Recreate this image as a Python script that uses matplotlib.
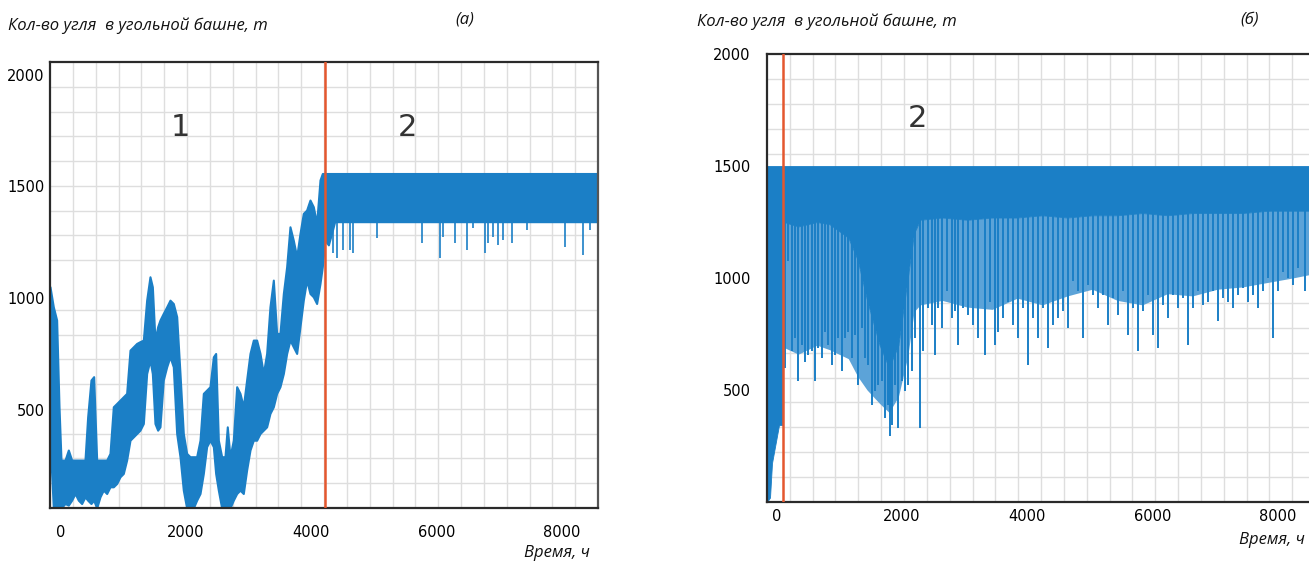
import matplotlib
matplotlib.use("Agg")
import matplotlib.pyplot as plt
import matplotlib.transforms as mtransforms
from matplotlib.ticker import MultipleLocator

# ---- (а) coal stock in the tower, whole year, hourly ----
a_hours = [0, 53, 106, 144, 176, 240, 293, 346, 400, 453, 506, 559, 602, 655,
           698, 746, 799, 852, 906, 959, 1012, 1066, 1119, 1172, 1225, 1279,
           1332, 1385, 1438, 1492, 1545, 1598, 1636, 1678, 1721, 1758, 1811,
           1865, 1918, 1971, 2025, 2078, 2131, 2184, 2238, 2291, 2344, 2398,
           2451, 2504, 2557, 2611, 2648, 2691, 2744, 2797, 2834, 2877, 2930,
           2984, 3037, 3090, 3143, 3197, 3250, 3303, 3357, 3410, 3463, 3516,
           3570, 3623, 3676, 3730, 3783, 3836, 3889, 3943, 3996, 4049, 4102,
           4156, 4209, 4262, 4316, 4353, 4395, 4450, 4500, 4550, 8760]
a_upper = [992, 902, 843, 454, 215, 215, 260, 215, 215, 215, 215, 215, 409, 574,
           589, 215, 215, 215, 215, 245, 454, 469, 484, 499, 514, 708,
           723, 738, 746, 753, 932, 1037, 992, 753, 813, 843, 873,
           902, 932, 917, 858, 603, 334, 245, 230, 230, 230, 304,
           514, 529, 544, 678, 693, 304, 230, 230, 364, 230, 304,
           544, 514, 454, 574, 693, 753, 753, 693, 603, 693, 902,
           1022, 783, 783, 962, 1082, 1261, 1201, 1127, 1231, 1321, 1336,
           1381, 1351, 1276, 1471, 1500, 1500, 1500, 1500, 1500, 1500]
a_lower = [304, 0, 0, 0, 0, 20, 13, 35, 65, 35, 20, 50, 35, 20,
           35, 0, 50, 80, 65, 95, 95, 110, 140, 155, 215, 304,
           319, 334, 349, 379, 603, 663, 603, 379, 349, 364, 574,
           633, 678, 633, 334, 230, 80, 0, 0, 0, 35, 65,
           155, 275, 304, 275, 155, 80, 0, 0, 0, 0, 35,
           65, 80, 65, 170, 260, 304, 304, 334, 349, 364, 424,
           454, 514, 544, 603, 693, 753, 723, 693, 813, 932, 1022,
           962, 947, 917, 1007, 1082, 1201, 1180, 1230, 1284, 1284]
a_spike_hours = [4529, 4582, 4689, 4796, 4848, 5222, 5942, 6234, 6287, 6474,
                 6661, 6767, 6953, 7006, 7087, 7166, 7246, 7380, 7620, 8232,
                 8526, 8632]
a_spike_low = [1142, 1120, 1157, 1157, 1142, 1209, 1187, 1120, 1217, 1187,
               1157, 1254, 1142, 1187, 1217, 1180, 1202, 1187, 1247, 1172,
               1135, 1247]
a_switch = 4400

# ---- (б) coal stock under the new control ----
b_hours = [0, 48, 80, 192, 250, 270, 500, 800, 1000, 1300, 1450, 1600, 1800,
           1950, 2100, 2250, 2350, 2450, 2800, 3200, 3600, 4000, 4400, 4800,
           5200, 5600, 6000, 6400, 6800, 7200, 7600, 8000, 8400, 8760]
b_top = [1500] * len(b_hours)
b_core = [0, 20, 174, 344, 344, 1250, 1230, 1250, 1240, 1180, 1080, 900, 700,
          600, 700, 1000, 1200, 1260, 1270, 1260, 1270, 1270, 1280, 1270,
          1280, 1280, 1290, 1280, 1290, 1290, 1290, 1300, 1300, 1300]
b_dense = [0, 20, 174, 344, 344, 690, 660, 700, 680, 640, 560, 500, 440,
           400, 470, 650, 850, 880, 900, 870, 860, 910, 880, 920,
           950, 900, 880, 930, 920, 950, 960, 980, 1000, 1020]
b_spike_hours = [288, 341, 394, 448, 501, 554, 607, 661, 714, 767, 820, 874,
                 927, 980, 1034, 1087, 1140, 1193, 1247, 1300, 1353, 1407,
                 1460, 1513, 1566, 1620, 1673, 1726, 1780, 1833, 1886, 1939,
                 1966, 1993, 2046, 2099, 2152, 2206, 2259, 2312, 2366, 2446,
                 2499, 2579, 2632, 2685, 2739, 2792, 2872, 2952, 3005, 3058,
                 3138, 3218, 3298, 3378, 3485, 3564, 3644, 3698, 3778, 3857,
                 3937, 4017, 4097, 4177, 4257, 4337, 4417, 4497, 4577, 4657,
                 4737, 4816, 4896, 4976, 5056, 5136, 5216, 5296, 5376, 5456,
                 5536, 5616, 5696, 5776, 5855, 5935, 6015, 6095, 6175, 6255,
                 6335, 6415, 6495, 6575, 6655, 6735, 6814, 6894, 6974, 7054,
                 7134, 7214, 7294, 7374, 7454, 7534, 7614, 7694, 7773, 7853,
                 7933, 8013, 8093, 8173, 8253, 8333, 8413, 8493, 8599, 8700]
b_spike_low = [598, 1074, 672, 732, 538, 702, 627, 657, 672, 538, 687, 642,
               761, 702, 613, 657, 732, 583, 732, 761, 642, 747,
               523, 776, 642, 613, 434, 494, 523, 538, 375, 434,
               293, 345, 523, 330, 538, 494, 523, 583, 732, 330,
               672, 866, 791, 657, 866, 776, 940, 821, 851, 702,
               866, 836, 791, 732, 657, 895, 702, 761, 821, 895,
               791, 732, 866, 613, 821, 732, 866, 687, 791, 821,
               851, 776, 985, 940, 732, 970, 925, 866, 925, 791,
               910, 836, 940, 747, 866, 672, 851, 925, 747, 687,
               881, 821, 925, 866, 910, 702, 866, 940, 881, 895,
               940, 806, 910, 895, 866, 925, 955, 895, 925, 866,
               940, 1000, 732, 940, 1029, 1000, 970, 1044, 940, 1000]
b_switch = 256

blue = "#1b7fc6"
mid_blue = "#5ca3d8"
red = "#e4572e"
W, H = 1309, 564

fig = plt.figure(figsize=(W / 100, H / 100), dpi=100)
ax_a = fig.add_axes([50 / W, 1 - 508 / H, 548 / W, 446 / H])
ax_b = fig.add_axes([767 / W, 1 - 502 / H, 548 / W, 448 / H])


def dress(ax, xshift, yshift, ypad, xpad):
    ax.set_xlim(0, 8760)
    ax.set_ylim(0, 2000)
    ax.set_xticks([0, 2000, 4000, 6000, 8000])
    ax.set_yticks([500, 1000, 1500, 2000])
    ax.xaxis.set_minor_locator(MultipleLocator(365))
    ax.yaxis.set_minor_locator(MultipleLocator(2000 / 18))
    ax.grid(which="minor", color="#dedede", lw=1.0)
    ax.set_axisbelow(True)
    ax.tick_params(which="both", length=0)
    ax.tick_params(axis="x", pad=xpad, labelsize=10.5)
    ax.tick_params(axis="y", pad=ypad, labelsize=10.5)
    for s in ax.spines.values():
        s.set_linewidth(1.6)
        s.set_color("#2a2a2a")
    ax.spines["right"].set_color("#555555")
    off = mtransforms.ScaledTranslation(xshift / 100, 0, fig.dpi_scale_trans)
    for lab in ax.get_xticklabels():
        lab.set_transform(lab.get_transform() + off)
    off = mtransforms.ScaledTranslation(0, -yshift / 100, fig.dpi_scale_trans)
    for lab in ax.get_yticklabels():
        lab.set_transform(lab.get_transform() + off)


# (а)
ax_a.fill_between(a_hours, a_lower, a_upper, color=blue, lw=1.5, zorder=2)
ax_a.vlines(a_spike_hours, a_spike_low, 1290, color=blue, lw=1.2, zorder=2)
ax_a.axvline(a_switch, color=red, lw=1.8, zorder=3)
ax_a.text(2078, 1708, "1", fontsize=22, color="#333333", ha="center", va="center")
ax_a.text(5707, 1708, "2", fontsize=22, color="#333333", ha="center", va="center")
dress(ax_a, 11, 13, 4, 12)

# (б)
ax_b.fill_between(b_hours, b_dense, b_core, color=mid_blue, lw=0, zorder=2)
ax_b.vlines(b_spike_hours, b_spike_low, 1300, color=blue, lw=1.4, zorder=2)
ax_b.fill_between(b_hours, b_core, b_top, color=blue, lw=0.6, zorder=2)
ax_b.axvline(b_switch, color=red, lw=1.8, zorder=3)
ax_b.text(2398, 1714, "2", fontsize=22, color="#333333", ha="center", va="center")
dress(ax_b, 10, 0, 12, 5)

ital = dict(family=["Open Sans", "DejaVu Sans"], style="italic", fontsize=12,
            color="#111111")


def ftext(x, y, s, ha="left"):
    fig.text(x / W, 1 - y / H, s, ha=ha, va="center", **ital)


ftext(8, 26, "Кол-во угля  в угольной башне, т")
ftext(465, 20, "(а)", ha="center")
ftext(590, 553, "Время, ч", ha="right")
ftext(697, 22, "Кол-во угля  в угольной башне, т")
ftext(1250, 20, "(б)", ha="center")
ftext(1305, 540, "Время, ч", ha="right")

fig.savefig("out.png", dpi=100)
